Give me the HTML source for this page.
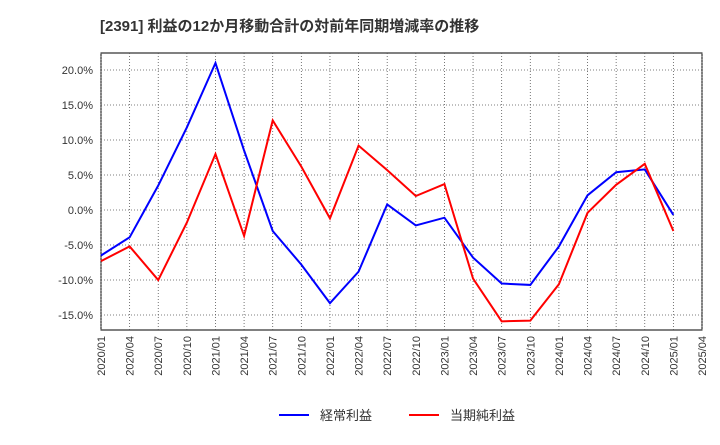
<!DOCTYPE html>
<html><head><meta charset="utf-8">
<style>
body{margin:0;background:#fff;font-family:"Liberation Sans","Noto Sans CJK JP",sans-serif;}
svg text{font-family:"Liberation Sans","Noto Sans CJK JP",sans-serif;}
</style></head>
<body>
<svg id="chart" width="720" height="440" viewBox="0 0 720 440" xmlns="http://www.w3.org/2000/svg">
<text x="100" y="31" font-size="15" font-weight="bold" fill="#333">[2391]  利益の12か月移動合計の対前年同期増減率の推移</text>
<rect x="101" y="53" width="601" height="277" fill="#fff" stroke="#000" stroke-width="1"/>
<g id="grid"></g>
<g id="yticks"></g>
<g id="xticks"></g>
<g id="series"></g>
<g>
<line x1="279" y1="415" x2="309" y2="415" stroke="#0000ff" stroke-width="2"/>
<text x="320" y="420" font-size="13" fill="#333">経常利益</text>
<line x1="409" y1="415" x2="439" y2="415" stroke="#ff0000" stroke-width="2"/>
<text x="450" y="420" font-size="13" fill="#333">当期純利益</text>
</g>
</svg>
<script>
const categories=["2020/01","2020/04","2020/07","2020/10","2021/01","2021/04","2021/07","2021/10","2022/01","2022/04","2022/07","2022/10","2023/01","2023/04","2023/07","2023/10","2024/01","2024/04","2024/07","2024/10","2025/01","2025/04"];
const ordinaryProfit=[-6.5,-3.9,3.5,11.8,21.0,8.5,-3.0,-7.8,-13.3,-8.8,0.8,-2.2,-1.1,-6.8,-10.5,-10.7,-5.2,2.1,5.4,5.8,-0.7];
const netProfit=[-7.3,-5.2,-10.0,-1.8,8.0,-3.7,12.8,6.2,-1.2,9.2,5.7,2.0,3.7,-9.8,-15.9,-15.8,-10.6,-0.4,3.6,6.6,-3.0];
const yTickValues=[-15,-10,-5,0,5,10,15,20];
const yTickLabels=["-15.0%","-10.0%","-5.0%","0.0%","5.0%","10.0%","15.0%","20.0%"];
const NS="http://www.w3.org/2000/svg";
const L=101,R=702,T=53,B=330;
const yMin=-17.14,yMax=22.43;
function xs(i){return L+(R-L)*i/(categories.length-1);}
function ys(v){return B-(v-yMin)/(yMax-yMin)*(B-T);}
function mk(tag,attrs,parent){const e=document.createElementNS(NS,tag);for(const k in attrs)e.setAttribute(k,attrs[k]);parent.appendChild(e);return e;}
const grid=document.getElementById('grid'),yt=document.getElementById('yticks'),xt=document.getElementById('xticks'),ser=document.getElementById('series');
for(let i=0;i<categories.length;i++){
  const x=xs(i);
  const g=mk('line',{x1:x,y1:T,x2:x,y2:B,stroke:'#555','stroke-width':0.8,'stroke-dasharray':'1,2'},grid);
  
  
  const t=mk('text',{x:0,y:0,'font-size':11,fill:'#333','text-anchor':'end',transform:`translate(${x+4},${B+6}) rotate(-90)`},xt);
  t.textContent=categories[i];
  
  
}
for(let i=0;i<yTickValues.length;i++){
  const y=ys(yTickValues[i]);
  const g=mk('line',{x1:L,y1:y,x2:R,y2:y,stroke:'#555','stroke-width':0.8,'stroke-dasharray':'1,2'},grid);
  
  
  const t=mk('text',{x:L-8,y:y+4,'font-size':11,fill:'#333','text-anchor':'end'},yt);
  t.textContent=yTickLabels[i];
  
  
}
function line(data,color,name){
  const p=mk('polyline',{points:data.map((v,i)=>xs(i)+','+ys(v)).join(' '),fill:'none',stroke:color,'stroke-width':2},ser);
  
  
}
line(ordinaryProfit,'#0000ff','ordinary-profit-line');
line(netProfit,'#ff0000','net-profit-line');
</script>
</body></html>
